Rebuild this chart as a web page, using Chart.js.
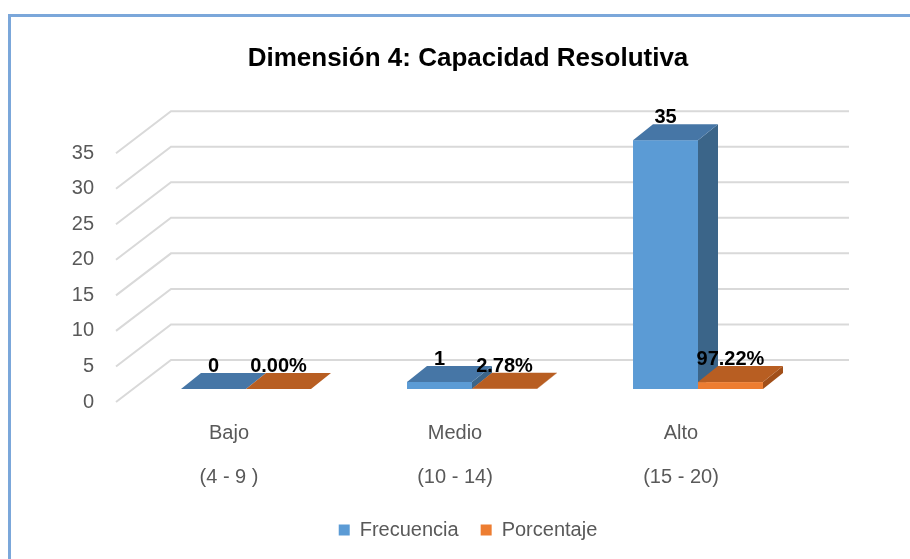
<!DOCTYPE html>
<html>
<head>
<meta charset="utf-8">
<script src="https://cdn.jsdelivr.net/npm/chart.js@4.4.1/dist/chart.umd.min.js"></script>
<style>
    body { margin: 0; background: #ffffff; }
    #frame { position: absolute; left: 8px; top: 14px; width: 2000px; height: 2000px;
             border-left: 3px solid #7ba7da; border-top: 3px solid #7ba7da; }
    #wrap { position: absolute; left: 0; top: 0; width: 910px; height: 559px; }
</style>
</head>
<body>
<div id="frame"></div>
<div id="wrap"><canvas id="dimension" width="910" height="559"></canvas></div>
<script>
// Data
const categories = [['Bajo', '(4 - 9 )'], ['Medio', '(10 - 14)'], ['Alto', '(15 - 20)']];
const seriesNames = ['Frecuencia', 'Porcentaje'];
const frecuencia = [0, 1, 35];
const porcentaje = [0, 0.0278, 0.9722]; // stored as fractions, shown as %
const yMin = 0;
const yMax = 35;
const yStep = 5;

// Colours (front, top, side) for each series
const faceColors = [
    { front: '#5b9bd5', top: '#4676a6', side: '#3b6589' },
    { front: '#ed7d31', top: '#b85e22', side: '#a14f19' }
];

// 3D look: wall depth, bar plane shift and bar depth
const WALL_DX = 55, WALL_DY = -42;
const SHIFT_X = 17, SHIFT_Y = -13;
const BAR_DX = 20, BAR_DY = -16;

const FONT = '"Liberation Sans", Arial, sans-serif';

const formatLabel = (datasetIndex, value) =>
    datasetIndex === 1 ? (value * 100).toFixed(2) + '%' : String(value);

const fake3d = {
    id: 'fake3d',
    beforeDatasetsDraw(chart) {
        const ctx = chart.ctx;
        const yScale = chart.scales.y;
        const { left, right } = chart.chartArea;

        // back wall grid lines with the diagonal going to the front
        ctx.save();
        ctx.strokeStyle = '#d9d9d9';
        ctx.lineWidth = 2;
        yScale.ticks.forEach(t => {
            const py = yScale.getPixelForValue(t.value);
            ctx.beginPath();
            ctx.moveTo(left, py);
            ctx.lineTo(left + WALL_DX, py + WALL_DY);
            ctx.lineTo(right + WALL_DX, py + WALL_DY);
            ctx.stroke();
        });
        ctx.restore();

        // bars, category by category so the orange one hides the blue side
        const labels = [];
        categories.forEach((c, i) => {
            chart.data.datasets.forEach((ds, d) => {
                const el = chart.getDatasetMeta(d).data[i];
                const { x, y, base, width } = el.getProps(['x', 'y', 'base', 'width'], true);
                const col = faceColors[d];
                const xl = x - width / 2 + SHIFT_X;
                const xr = x + width / 2 + SHIFT_X;
                const yt = y + SHIFT_Y;
                const yb = base + SHIFT_Y;

                ctx.save();
                // front
                ctx.fillStyle = col.front;
                ctx.fillRect(xl, yt, xr - xl, yb - yt);
                // side
                ctx.fillStyle = col.side;
                ctx.beginPath();
                ctx.moveTo(xr, yt);
                ctx.lineTo(xr + BAR_DX, yt + BAR_DY);
                ctx.lineTo(xr + BAR_DX, yb + BAR_DY);
                ctx.lineTo(xr, yb);
                ctx.closePath();
                ctx.fill();
                // top
                ctx.fillStyle = col.top;
                ctx.beginPath();
                ctx.moveTo(xl, yt);
                ctx.lineTo(xr, yt);
                ctx.lineTo(xr + BAR_DX, yt + BAR_DY);
                ctx.lineTo(xl + BAR_DX, yt + BAR_DY);
                ctx.closePath();
                ctx.fill();
                ctx.restore();

                labels.push({ text: formatLabel(d, ds.data[i]), x: (xl + xr) / 2, y: yt + BAR_DY - 1 });
            });
        });

        // value labels on top
        ctx.save();
        ctx.font = 'bold 20px ' + FONT;
        ctx.fillStyle = '#000000';
        ctx.textAlign = 'center';
        ctx.textBaseline = 'alphabetic';
        labels.forEach(l => ctx.fillText(l.text, l.x, l.y));
        ctx.restore();

        // bars are drawn above, skip the flat default ones
        return false;
    }
};

const chartconfig = {
    type: 'bar',
    data: {
        labels: categories,
        datasets: [
            { label: seriesNames[0], data: frecuencia, backgroundColor: faceColors[0].front, borderWidth: 0 },
            { label: seriesNames[1], data: porcentaje, backgroundColor: faceColors[1].front, borderWidth: 0 }
        ]
    },
    options: {
        responsive: false,
        animation: false,
        devicePixelRatio: 1,
        layout: { padding: { left: 26, right: 0, top: 0, bottom: 9 } },
        datasets: { bar: { categoryPercentage: 0.575, barPercentage: 1 } },
        scales: {
            x: {
                grid: { display: false, drawTicks: false },
                border: { display: false },
                afterFit: scale => { scale.height = 96; },
                ticks: {
                    padding: 9,
                    color: '#595959',
                    font: { family: FONT, size: 20, lineHeight: 2.2 }
                }
            },
            y: {
                min: yMin,
                max: yMax,
                grid: { display: false, drawTicks: false },
                border: { display: false },
                afterFit: scale => { scale.width = 90; },
                ticks: {
                    stepSize: yStep,
                    padding: 22,
                    color: '#595959',
                    font: { family: FONT, size: 20 }
                }
            },
            // empty right axis: keeps room for the back wall depth
            yRight: {
                position: 'right',
                grid: { display: false, drawTicks: false },
                border: { display: false },
                ticks: { display: false },
                afterFit: scale => { scale.width = 116; }
            }
        },
        plugins: {
            title: {
                display: true,
                text: 'Dimensión 4: Capacidad Resolutiva',
                color: '#000000',
                font: { family: FONT, size: 26, weight: 'bold' },
                padding: { top: 43, bottom: 79 }
            },
            legend: {
                display: true,
                position: 'bottom',
                labels: {
                    boxWidth: 11,
                    boxHeight: 11,
                    padding: 22,
                    color: '#595959',
                    font: { family: FONT, size: 20 }
                }
            },
            tooltip: { enabled: false }
        }
    },
    plugins: [fake3d]
};

const canvas = document.getElementById('dimension');
if (canvas) {
    new Chart(canvas, chartconfig);
} else {
    console.error('Canvas element with ID "dimension" not found');
}
</script>
</body>
</html>
